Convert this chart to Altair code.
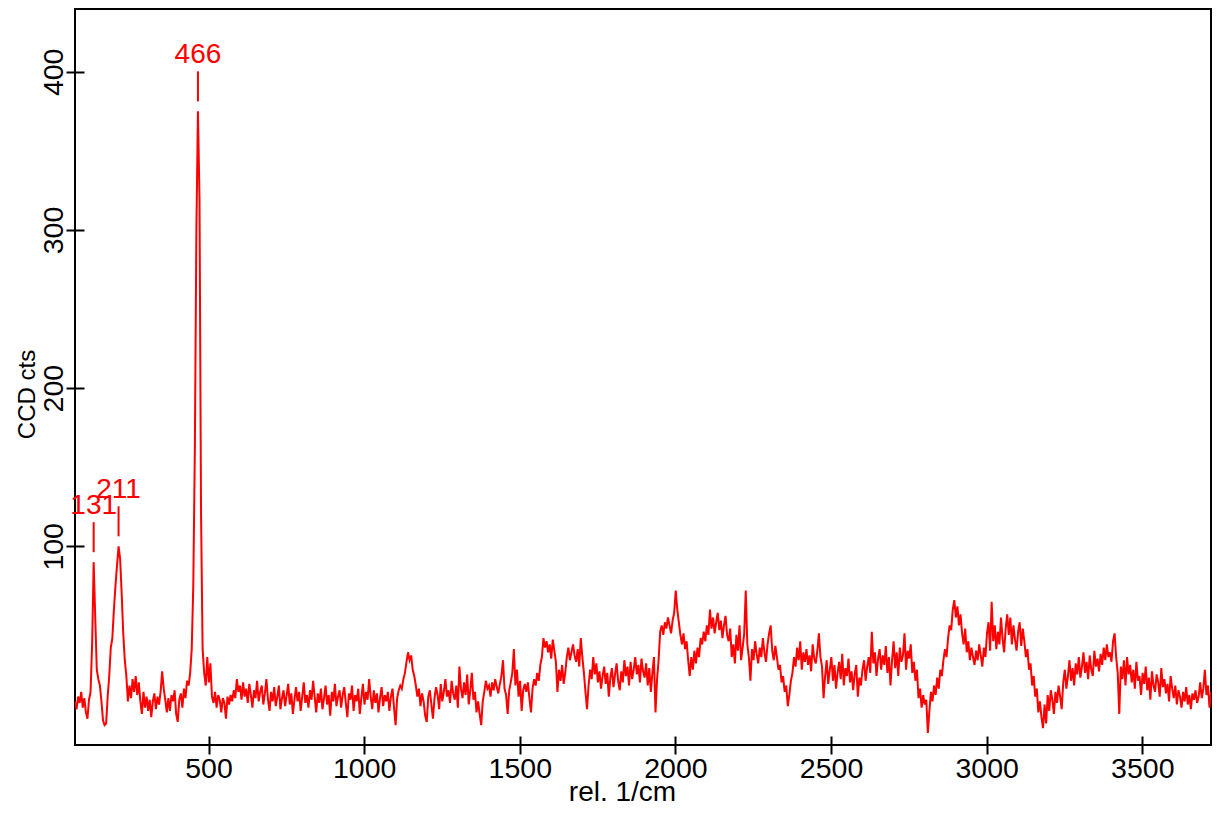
import altair as alt
import pandas as pd

# Raman spectrum: first wavenumber, step (rel. 1/cm) and CCD counts
X_START = 71
X_STEP = 5
counts = [
    2, -3, 5, 1, 8, -2, 4, -5, -9, 3,
    8, 38, 90, 55, 22, 16, 12, 2, -10, -13,
    -12, 5, 18, 36, 42, 60, 75, 88, 100, 92,
    70, 45, 28, 18, 2, 12, 4, 16, 8, 18,
    6, 14, 2, -6, 8, -2, 5, -4, 3, -8,
    2, 7, -3, 5, 0, 8, 21, 10, 3, -5,
    4, -4, 6, 2, 9, -6, -11, 3, 7, -2,
    10, 4, 15, 12, 20, 35, 75, 160, 300, 375,
    320, 120, 35, 20, 12, 30, 14, 26, 5, 1,
    8, -2, 6, 3, -5, 4, 1, -9, 5, 0,
    6, 2, 9, 4, 16, 8, 12, 3, 14, 5,
    10, 1, 13, 6, -2, 9, 4, 15, 2, 8,
    12, 0, 7, 16, 3, -4, 8, 2, 11, -1,
    5, 12, -3, 4, 9, -1, 6, 13, 0, 7,
    -6, 3, 11, 2, 8, -4, 5, 14, 1, 6,
    -2, 9, 3, 15, 5, -5, 7, 1, 10, -3,
    4, 12, 0, 6, -7, 8, 2, 13, -1, 5,
    9, -2, 6, 11, 1, -8, 7, 3, 12, -4,
    6, 2, 10, -6, 4, 13, 0, 8, 3, 16,
    5, -3, 9, 1, 7, -5, 4, 11, -1, 6,
    2, 8, -4, 5, 10, -2, -13, 4, 9, 12,
    10, 16, 20, 27, 33, 28, 31, 22, 18, 12,
    5, 10, -1, 7, 2, -7, -11, 5, 9, 0,
    -9, 4, 11, 6, -3, 13, 2, 8, 16, 5,
    9, 1, 15, 7, 3, 12, -2, 24, 10, 4,
    14, 6, 19, 0, 9, 20, 3, 8, -5, 2,
    -6, -13, 2, 8, 15, 10, 12, 5, 14, 9,
    16, 11, 7, 13, 18, 28, 10, 6, -6, 9,
    14, 20, 35, 12, 22, 5, 15, -4, 9, 13,
    8, 14, 4, -5, 10, 16, 12, 20, 15, 25,
    30, 42, 36, 40, 33, 38, 29, 41, 34, 27,
    8, 22, 15, 25, 13, 20, 30, 36, 28, 33,
    38, 31, 27, 35, 24, 42, 30, 20, 8, -3,
    12, 22, 16, 30, 19, 26, 14, 21, 10, 18,
    24, 13, 20, 5, 17, 23, 11, 19, 26, 15,
    9, 21, 14, 28, 18, 24, 12, 27, 16, 22,
    30, 19, 25, 14, 29, 21, 17, 26, 12, 23,
    8, 20, 30, -5, 16, 28, 46, 50, 44, 52,
    48, 55, 50, 45, 53, 58, 72, 60, 52, 44,
    38, 45, 35, 40, 28, 18, 30, 22, 34, 26,
    36, 30, 42, 38, 46, 40, 50, 44, 60, 48,
    55, 45, 52, 58, 47, 53, 42, 50, 56, 44,
    40, 48, 30, 38, 26, 44, 34, 50, 28, 36,
    45, 72, 38, 30, 15, 35, 28, 40, 32, 26,
    36, 30, 42, 33, 27, 38, 45, 50, 34, 28,
    37, 30, 22, 25, 14, 18, 8, 12, -1, 6,
    15, 20, 30, 24, 36, 28, 40, 22, 33, 27,
    35, 25, 31, 21, 38, 29, 26, 34, 45, 30,
    24, 4, 18, 28, 13, 22, 30, 15, 25, 10,
    20, 27, 16, 32, 12, 23, 18, 29, 14, 21,
    9, 19, 25, 5, 17, 12, 22, 28, 15, 24,
    30, 20, 46, 26, 33, 18, 29, 35, 22, 31,
    25, 37, 20, 30, 12, 28, 40, 23, 33, 18,
    36, 27, 31, 45, 22, 34, 29, 38, 20, 27,
    15, 22, 4, 10, -2, 6, 0, 3, -18, -4,
    8, 2, 12, 6, 17, 10, 22, 18, 28, 35,
    30, 42, 50, 47, 60, 66, 55, 62, 50, 57,
    45, 38, 48, 33, 40, 28, 36, 30, 25, 34,
    28, 38, 31, 24, 36, 30, 45, 52, 34, 65,
    40, 50, 35, 46, 38, 55, 42, 33, 48, 57,
    44, 55, 38, 50, 41, 34, 46, 52, 37, 48,
    40, 30, 35, 22, 26, 12, 18, 5, 10, -5,
    2, -8, -15, 0, -12, 6, -4, 9, 3, -6,
    8, 1, 12, 5, -3, 14, 22, 10, 18, 28,
    15, 23, 12, 26, 19, 30, 17, 24, 33, 20,
    27, 16, 31, 22, 18, 34, 24, 29, 21, 32,
    25, 36, 28, 38, 30, 33, 27, 40, 45, 30,
    20, -6, 24, 16, 28, 12, 30, 19, 25, 14,
    22, 10, 27, 15, 18, 6, 20, 13, 24, 9,
    17, 3, 21, 12, 8, 19, 14, 5, 23, 11,
    16, 7, 13, 2, 18, 10, 4, 12, 0, 9,
    5, -2, 8, 2, 11, 0, 6, -3, 7, 3,
    9, 1, 5, 14, 4, 10, 22, 6, 12, -2,
    8, 3, -14, -8, -14,
]
wavenumbers = [X_START + i * X_STEP for i in range(len(counts))]

peak_positions = [131, 211, 466]
peak_labels = ["131", "211", "466"]

x_ticks = [500, 1000, 1500, 2000, 2500, 3000, 3500]
y_ticks = [100, 200, 300, 400]

df = pd.DataFrame({"wn": wavenumbers, "cts": counts})
peak_heights = [
    max(c for w, c in zip(wavenumbers, counts) if abs(w - p) <= 6) for p in peak_positions
]
pk = pd.DataFrame({"wn": peak_positions, "h": peak_heights, "label": peak_labels})

FONT = "Liberation Sans"
RED = "#ff0000"

xs = alt.Scale(domain=[71, 3720.7], nice=False, zero=False)
ys = alt.Scale(domain=[-25.6, 439.7], nice=False, zero=False)

xaxis = alt.Axis(
    values=x_ticks, format="d", offset=-9, tickSize=18, tickWidth=2, tickColor="black",
    domain=False, grid=False, labelFont=FONT, labelFontSize=28.5, labelColor="black",
    labelPadding=0, title="rel. 1/cm", titleFont=FONT, titleFontSize=28,
    titleFontWeight="normal", titleColor="black", titleX=547, titleY=64,
    titleAlign="center", titleBaseline="alphabetic",
)
yaxis = alt.Axis(
    values=y_ticks, format="d", offset=-9, tickSize=18, tickWidth=2, tickColor="black",
    domain=False, grid=False, labelFont=FONT, labelFontSize=28.5, labelColor="black",
    labelAngle=270, labelAlign="center", labelBaseline="alphabetic", labelPadding=4,
    title="CCD cts", titleFont=FONT, titleFontSize=24, titleFontWeight="normal",
    titleColor="black", titleAngle=270, titleX=-57, titleY=385,
    titleAlign="center", titleBaseline="middle",
)

line = alt.Chart(df).mark_line(color=RED, strokeWidth=2, clip=True).encode(
    x=alt.X("wn:Q", scale=xs, axis=xaxis),
    y=alt.Y("cts:Q", scale=ys, axis=yaxis),
)

markers = alt.Chart(pk).mark_rule(
    color=RED, strokeWidth=2, yOffset=-10, y2Offset=-40
).encode(
    x=alt.X("wn:Q", scale=xs),
    y=alt.Y("h:Q", scale=ys),
    y2="h:Q",
)

labels = alt.Chart(pk).mark_text(
    color=RED, font=FONT, fontSize=28, baseline="alphabetic", align="center", dy=-48
).encode(
    x=alt.X("wn:Q", scale=xs),
    y=alt.Y("h:Q", scale=ys),
    text="label:N",
)

chart = (
    alt.layer(line, markers, labels)
    .properties(
        width=1136,
        height=736,
        autosize=alt.AutoSizeParams(type="none"),
        padding={"left": 67, "top": 1, "right": 1, "bottom": 60},
        background="white",
    )
    .configure_view(stroke="black", strokeWidth=2)
)

chart.save("out.html", embed_options={"renderer": "svg", "actions": False})
